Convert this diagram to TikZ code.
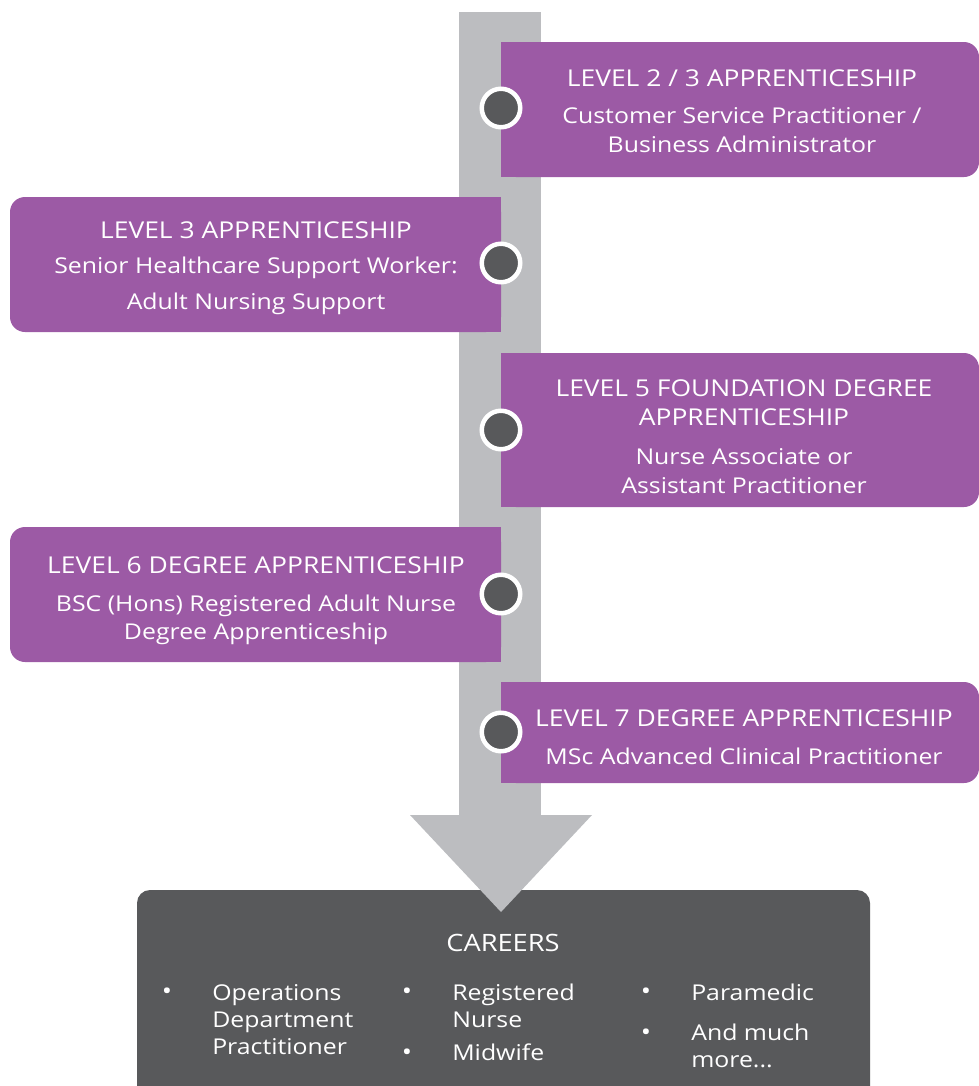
\documentclass[tikz,border=0pt]{standalone}
\usepackage{fontspec}
\setmainfont{Open Sans}[FakeStretch=1.14]
\usetikzlibrary{positioning}
\definecolor{cardpurple}{HTML}{9C5AA5}
\definecolor{bargray}{HTML}{BCBDC0}
\definecolor{slate}{HTML}{58595B}
\newcommand\cardhead[1]{{\fontsize{16.5}{20.6}\selectfont #1}}

\begin{document}
\begin{tikzpicture}[x=0.25mm,y=-0.25mm,
    card/.style={fill=cardpurple},
    cardtext/.style={text=white,align=center,inner sep=0pt,font=\fontsize{15.5}{20.6}\selectfont},
    stopdot/.style={circle,fill=slate,draw=white,line width=1.125mm,minimum size=9.625mm,inner sep=0pt},
    jobtext/.style={text=white,align=left,inner sep=0pt,anchor=north west,font=\fontsize{15.5}{19.2}\selectfont},
    jobdot/.style={text=white,inner sep=0pt,anchor=base,font=\fontsize{17}{19.2}\selectfont}]
\useasboundingbox (0,0) rectangle (979,1086);

% careers box at the bottom
\begin{scope}
\clip (0,0) rectangle (979,1086);
\fill[slate,rounded corners=3.25mm] (137,890) rectangle (870,1130);
\end{scope}

% the long grey arrow
\fill[bargray] (459,12) rectangle (541,816);
\fill[bargray] (410,815) -- (592,815) -- (501,912) -- cycle;

% cards (one side rounded)
\fill[card,rounded corners=3.75mm] (501,42) rectangle (979,177);
\fill[card] (501,42) rectangle (700,177);
\fill[card,rounded corners=3.75mm] (10,197) rectangle (501,332);
\fill[card] (300,197) rectangle (501,332);
\fill[card,rounded corners=3.75mm] (501,353) rectangle (979,507);
\fill[card] (501,353) rectangle (700,507);
\fill[card,rounded corners=3.75mm] (10,527) rectangle (501,662);
\fill[card] (300,527) rectangle (501,662);
\fill[card,rounded corners=3.75mm] (501,682) rectangle (979,783);
\fill[card] (501,682) rectangle (700,783);

\node[cardtext] (lvltwo) at (742,111) {\cardhead{LEVEL 2 / 3 APPRENTICESHIP}\\[6pt]Customer Service Practitioner /\\Business Administrator};
\node[cardtext] (lvlthree) at (256,268) {\cardhead{LEVEL 3 APPRENTICESHIP}\\[4.5pt]Senior Healthcare Support Worker:\\[4.5pt]Adult Nursing Support};
\node[cardtext] (lvlfive) at (744,437) {\cardhead{LEVEL 5 FOUNDATION DEGREE}\\\cardhead{APPRENTICESHIP}\\[7pt]Nurse Associate or\\Assistant Practitioner};
\node[cardtext] (lvlsix) at (256,601) {\cardhead{LEVEL 6 DEGREE APPRENTICESHIP}\\[6pt]BSC (Hons) Registered Adult Nurse\\Degree Apprenticeship};
\node[cardtext] (lvlseven) at (744,737) {\cardhead{LEVEL 7 DEGREE APPRENTICESHIP}\\[6pt]MSc Advanced Clinical Practitioner};

% stops on the arrow
\foreach \y [count=\i] in {108,263,430,594,732}
    \node[stopdot] (stop\i) at (501,\y) {};

% careers
\node[text=white,inner sep=0pt,font=\fontsize{17}{19.2}\selectfont] (careers) at (503,943) {CAREERS};
\node[jobdot] (dotA) at (167,999) {\textbullet};
\node[jobtext] (jobA) at (212,984) {Operations\\Department\\Practitioner};
\node[jobdot] (dotB) at (407,999) {\textbullet};
\node[jobtext] (jobB) at (452,984) {Registered\\Nurse};
\node[jobdot] (dotC) at (407,1060) {\textbullet};
\node[jobtext] (jobC) at (452,1044) {Midwife};
\node[jobdot] (dotD) at (646,999) {\textbullet};
\node[jobtext] (jobD) at (691,984) {Paramedic};
\node[jobdot] (dotE) at (646,1040) {\textbullet};
\node[jobtext] (jobE) at (691,1024) {And much\\more...};

\end{tikzpicture}
\end{document}
